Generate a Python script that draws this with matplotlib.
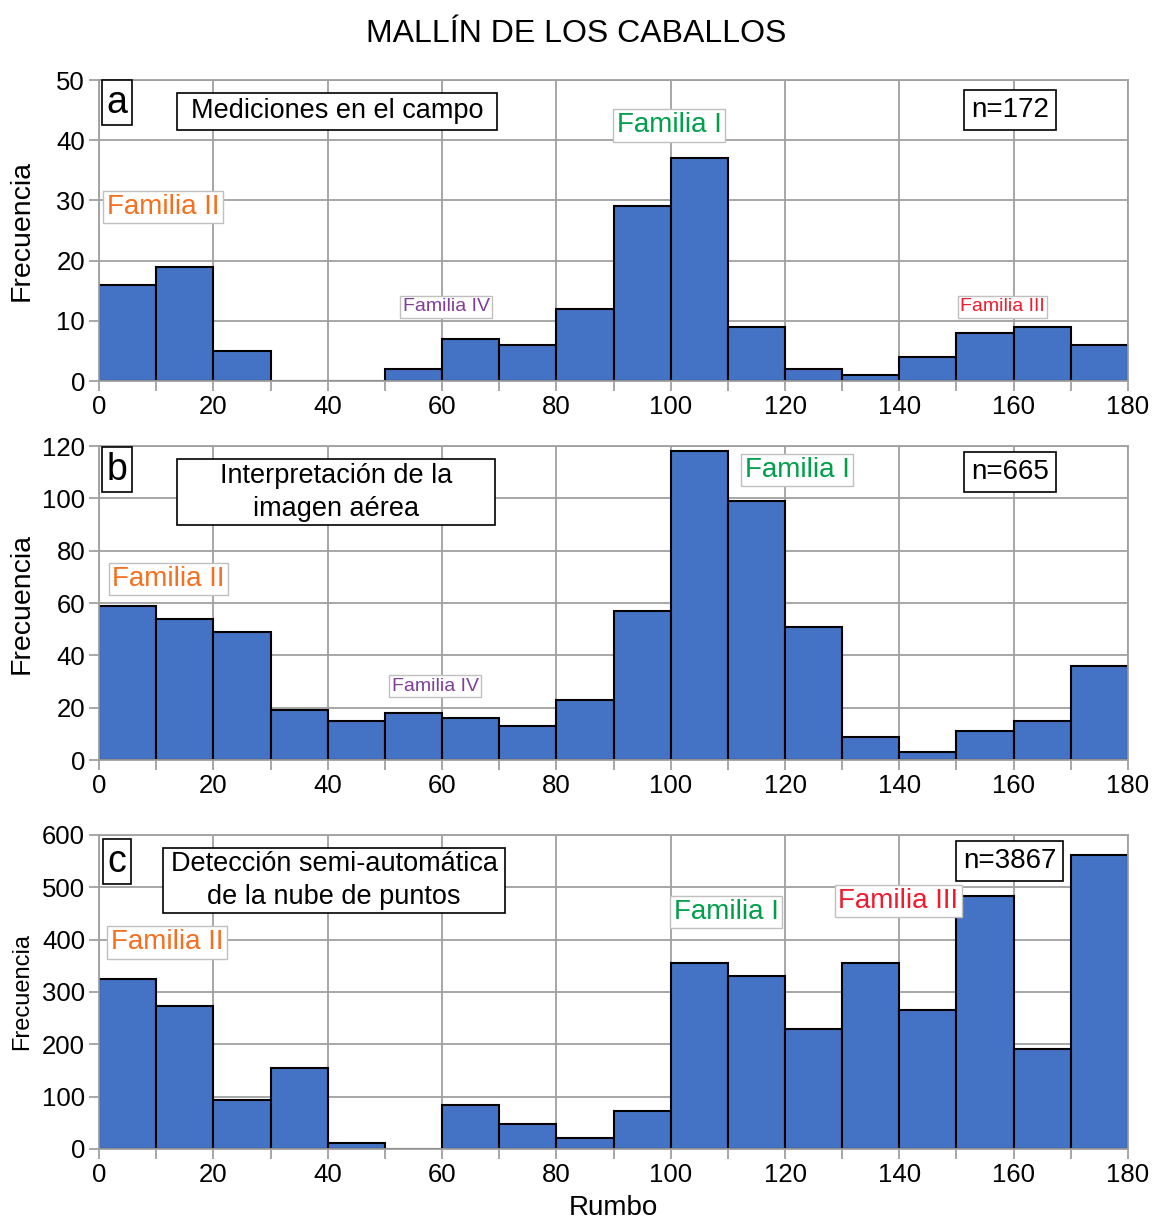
import numpy as np
import matplotlib
matplotlib.use("Agg")
import matplotlib.pyplot as plt
from matplotlib.patches import Rectangle

plt.rcParams['font.family'] = ['Liberation Sans', 'DejaVu Sans']

# bin edges (Rumbo, degrees)
edges = list(range(0, 190, 10))

# counts per 10-degree bin
campo = [16, 19, 5, 0, 0, 2, 7, 6, 12, 29, 37, 9, 2, 1, 4, 8, 9, 6]
imagen = [59, 54, 49, 19, 15, 18, 16, 13, 23, 57, 118, 99, 51, 9, 3, 11, 15, 36]
nube = [324, 274, 94, 155, 11, 0, 85, 48, 21, 72, 355, 330, 229, 355, 265, 483, 191, 561]

panel_letters = ['a', 'b', 'c']
panel_titles = ['Mediciones en el campo',
                'Interpretación de la\nimagen aérea',
                'Detección semi-automática\nde la nube de puntos']
n_labels = ['n=172', 'n=665', 'n=3867']
ymax = [50, 120, 600]
ystep = [10, 20, 100]

col_I = '#00A04A'
col_II = '#F47020'
col_III = '#EE1C2E'
col_IV = '#7F3F98'

fig = plt.figure(figsize=(11.53, 12.2), dpi=100)
positions = [[0.0859, 0.6877, 0.8924, 0.2467],
             [0.0859, 0.3770, 0.8924, 0.2574],
             [0.0859, 0.0582, 0.8924, 0.2574]]
data = [campo, imagen, nube]

axes = []
for i in range(3):
    ax = fig.add_axes(positions[i])
    vals = data[i]
    ax.bar(edges[:-1], vals, width=10, align='edge', color='#4472C4',
           edgecolor='black', linewidth=1.5, zorder=2)
    ax.set_xlim(0, 180)
    ax.set_ylim(0, ymax[i])
    ax.set_xticks(range(0, 181, 20))
    ax.set_xticks(range(0, 181, 10), minor=True)
    ax.set_yticks(range(0, ymax[i] + 1, ystep[i]))
    ax.grid(True, color='#a0a0a0', linewidth=1.3, zorder=0)
    ax.set_axisbelow(True)
    for s in ax.spines.values():
        s.set_color('#a0a0a0')
        s.set_linewidth(1.3)
    ax.tick_params(axis='both', which='major', labelsize=18.5, color='#a0a0a0',
                   length=7, width=1.3, pad=3)
    ax.tick_params(axis='x', which='minor', color='#a0a0a0', length=7, width=1.3)
    fs = 20.5 if i < 2 else 17
    ax.set_ylabel('Frecuencia', fontsize=fs)
    ax.yaxis.set_label_coords(-0.063 if i < 2 else -0.064, 0.5)
    axes.append(ax)

box_k = dict(boxstyle='square,pad=0.25', facecolor='white', edgecolor='black', linewidth=1.2)
box_g = dict(boxstyle='square,pad=0.12', facecolor='white', edgecolor='#c0c0c0', linewidth=1.0)

# panel letters, titles and n
letter_y = [0.925, 0.925, 0.915]
n_y = [45, 110, 550]
# title boxes in axes fraction: (x0, y0, x1, y1)
title_boxes = [(0.0757, 0.834, 0.3868, 0.957),
               (0.0757, 0.748, 0.3849, 0.958),
               (0.0622, 0.752, 0.3946, 0.959)]
for i, ax in enumerate(axes):
    ax.text(0.0175, letter_y[i], panel_letters[i], fontsize=27, ha='center', va='center',
            transform=ax.transAxes,
            bbox=dict(boxstyle='square,pad=0.12', facecolor='white', edgecolor='black', linewidth=1.2),
            zorder=5)
    x0, y0, x1, y1 = title_boxes[i]
    ax.add_patch(Rectangle((x0, y0), x1 - x0, y1 - y0, transform=ax.transAxes,
                           facecolor='white', edgecolor='black', linewidth=1.2, zorder=5))
    ax.text((x0 + x1) / 2, (y0 + y1) / 2, panel_titles[i], fontsize=19.5, ha='center',
            va='center', linespacing=1.35, transform=ax.transAxes, zorder=6)
    ax.text(159.3, n_y[i], n_labels[i], fontsize=20, ha='center', va='center',
            bbox=box_k, zorder=5)

# familia labels
axes[0].text(11.2, 28.9, 'Familia II', color=col_II, fontsize=20, ha='center', va='center', bbox=box_g, zorder=5)
axes[0].text(60.7, 12.3, 'Familia IV', color=col_IV, fontsize=14, ha='center', va='center', bbox=box_g, zorder=5)
axes[0].text(99.7, 42.5, 'Familia I', color=col_I, fontsize=20, ha='center', va='center', bbox=box_g, zorder=5)
axes[0].text(158, 12.3, 'Familia III', color=col_III, fontsize=14, ha='center', va='center', bbox=box_g, zorder=5)

axes[1].text(12.1, 69.2, 'Familia II', color=col_II, fontsize=20, ha='center', va='center', bbox=box_g, zorder=5)
axes[1].text(58.8, 28.3, 'Familia IV', color=col_IV, fontsize=14, ha='center', va='center', bbox=box_g, zorder=5)
axes[1].text(122.1, 110.8, 'Familia I', color=col_I, fontsize=20, ha='center', va='center', bbox=box_g, zorder=5)

axes[2].text(11.9, 395, 'Familia II', color=col_II, fontsize=20, ha='center', va='center', bbox=box_g, zorder=5)
axes[2].text(109.7, 453, 'Familia I', color=col_I, fontsize=20, ha='center', va='center', bbox=box_g, zorder=5)
axes[2].text(139.8, 474, 'Familia III', color=col_III, fontsize=20, ha='center', va='center', bbox=box_g, zorder=5)

axes[2].set_xlabel('Rumbo', fontsize=20, labelpad=6)

fig.text(0.5, 0.972, 'MALLÍN DE LOS CABALLOS', fontsize=23, ha='center', va='center')

fig.savefig('out.png', dpi=100, facecolor='white')
